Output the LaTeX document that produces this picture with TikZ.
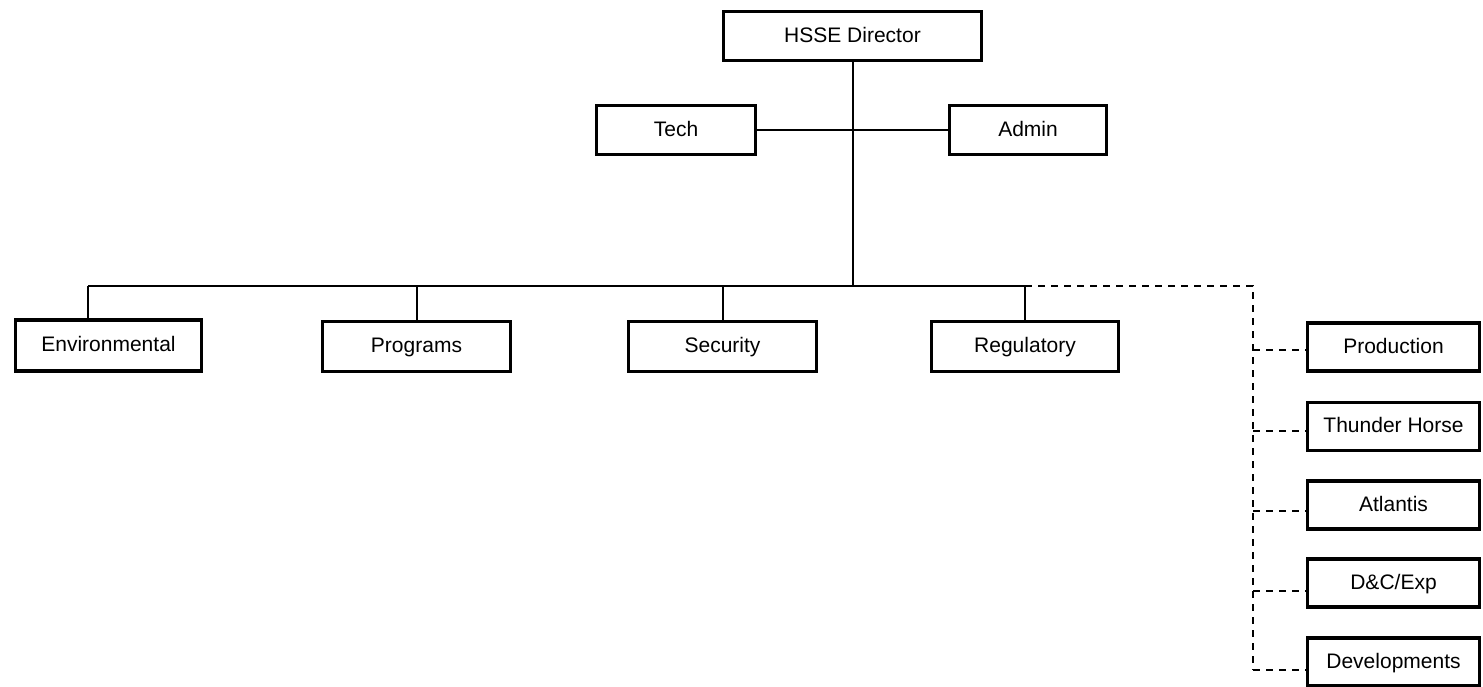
\documentclass[tikz,border=0pt]{standalone}
\usepackage{fontspec}
\setmainfont{Liberation Sans}
\begin{document}
\begin{tikzpicture}[x=1pt,y=-1pt,
  box/.style={draw, line width=3.8pt, inner sep=0pt, fill=white, text height=15pt, text depth=3pt, font=\fontsize{21}{25}\selectfont},
  link/.style={line width=2pt},
  dlink/.style={line width=2pt, dash pattern=on 7pt off 6pt}]
\useasboundingbox (0,0) rectangle (1483,686);
% top
\node[box, minimum width=258pt, minimum height=49pt] (dir) at (852.5,36) {HSSE Director};
\node[box, minimum width=159pt, minimum height=49pt] (tech) at (676,130) {Tech};
\node[box, minimum width=157pt, minimum height=49pt] (admin) at (1028,130) {Admin};
% middle row
\node[box, minimum width=186pt, minimum height=51pt] (env) at (108.5,345.5) {Environmental};
\node[box, minimum width=188pt, minimum height=50pt] (prog) at (416.5,346.5) {Programs};
\node[box, minimum width=188pt, minimum height=50pt] (sec) at (722.5,346.5) {Security};
\node[box, minimum width=187pt, minimum height=50pt] (reg) at (1025,346.5) {Regulatory};
% right column
\node[box, minimum width=172pt, minimum height=48pt] (prod) at (1393.5,347) {Production};
\node[box, minimum width=172pt, minimum height=48pt] (th) at (1393.5,426.5) {Thunder Horse};
\node[box, minimum width=172pt, minimum height=48pt] (atl) at (1393.5,505) {Atlantis};
\node[box, minimum width=172pt, minimum height=48pt] (dc) at (1393.5,583) {D\&C/Exp};
\node[box, minimum width=172pt, minimum height=48pt] (dev) at (1393.5,662) {Developments};
% coordinates
\coordinate (bus) at (852.5,286);
\coordinate (busL) at (88,286);
\coordinate (dash) at (1253,286);
\coordinate (dashB) at (1253,670);
\coordinate (sp) at ([yshift=-3pt]prod.west);
\coordinate (st) at ([yshift=-4.5pt]th.west);
\coordinate (sa) at ([yshift=-6pt]atl.west);
\coordinate (sd) at ([yshift=-8pt]dc.west);
% connectors
\draw[link] (dir.south) -- (bus);
\draw[link] (tech.east) -- (admin.west);
\draw[link] (busL) -- (reg.north |- bus);
\draw[link] (busL) -- (busL |- env.north);
\draw[link] (prog.north |- bus) -- (prog.north);
\draw[link] (sec.north |- bus) -- (sec.north);
\draw[link] (reg.north |- bus) -- (reg.north);
\draw[dlink] (reg.north |- bus) -- (dash) -- (dashB);
\draw[dlink] (dash |- sp) -- (sp);
\draw[dlink] (dash |- st) -- (st);
\draw[dlink] (dash |- sa) -- (sa);
\draw[dlink] (dash |- sd) -- (sd);
\draw[dlink] (dashB) -- (dashB -| dev.west);
\end{tikzpicture}
\end{document}
